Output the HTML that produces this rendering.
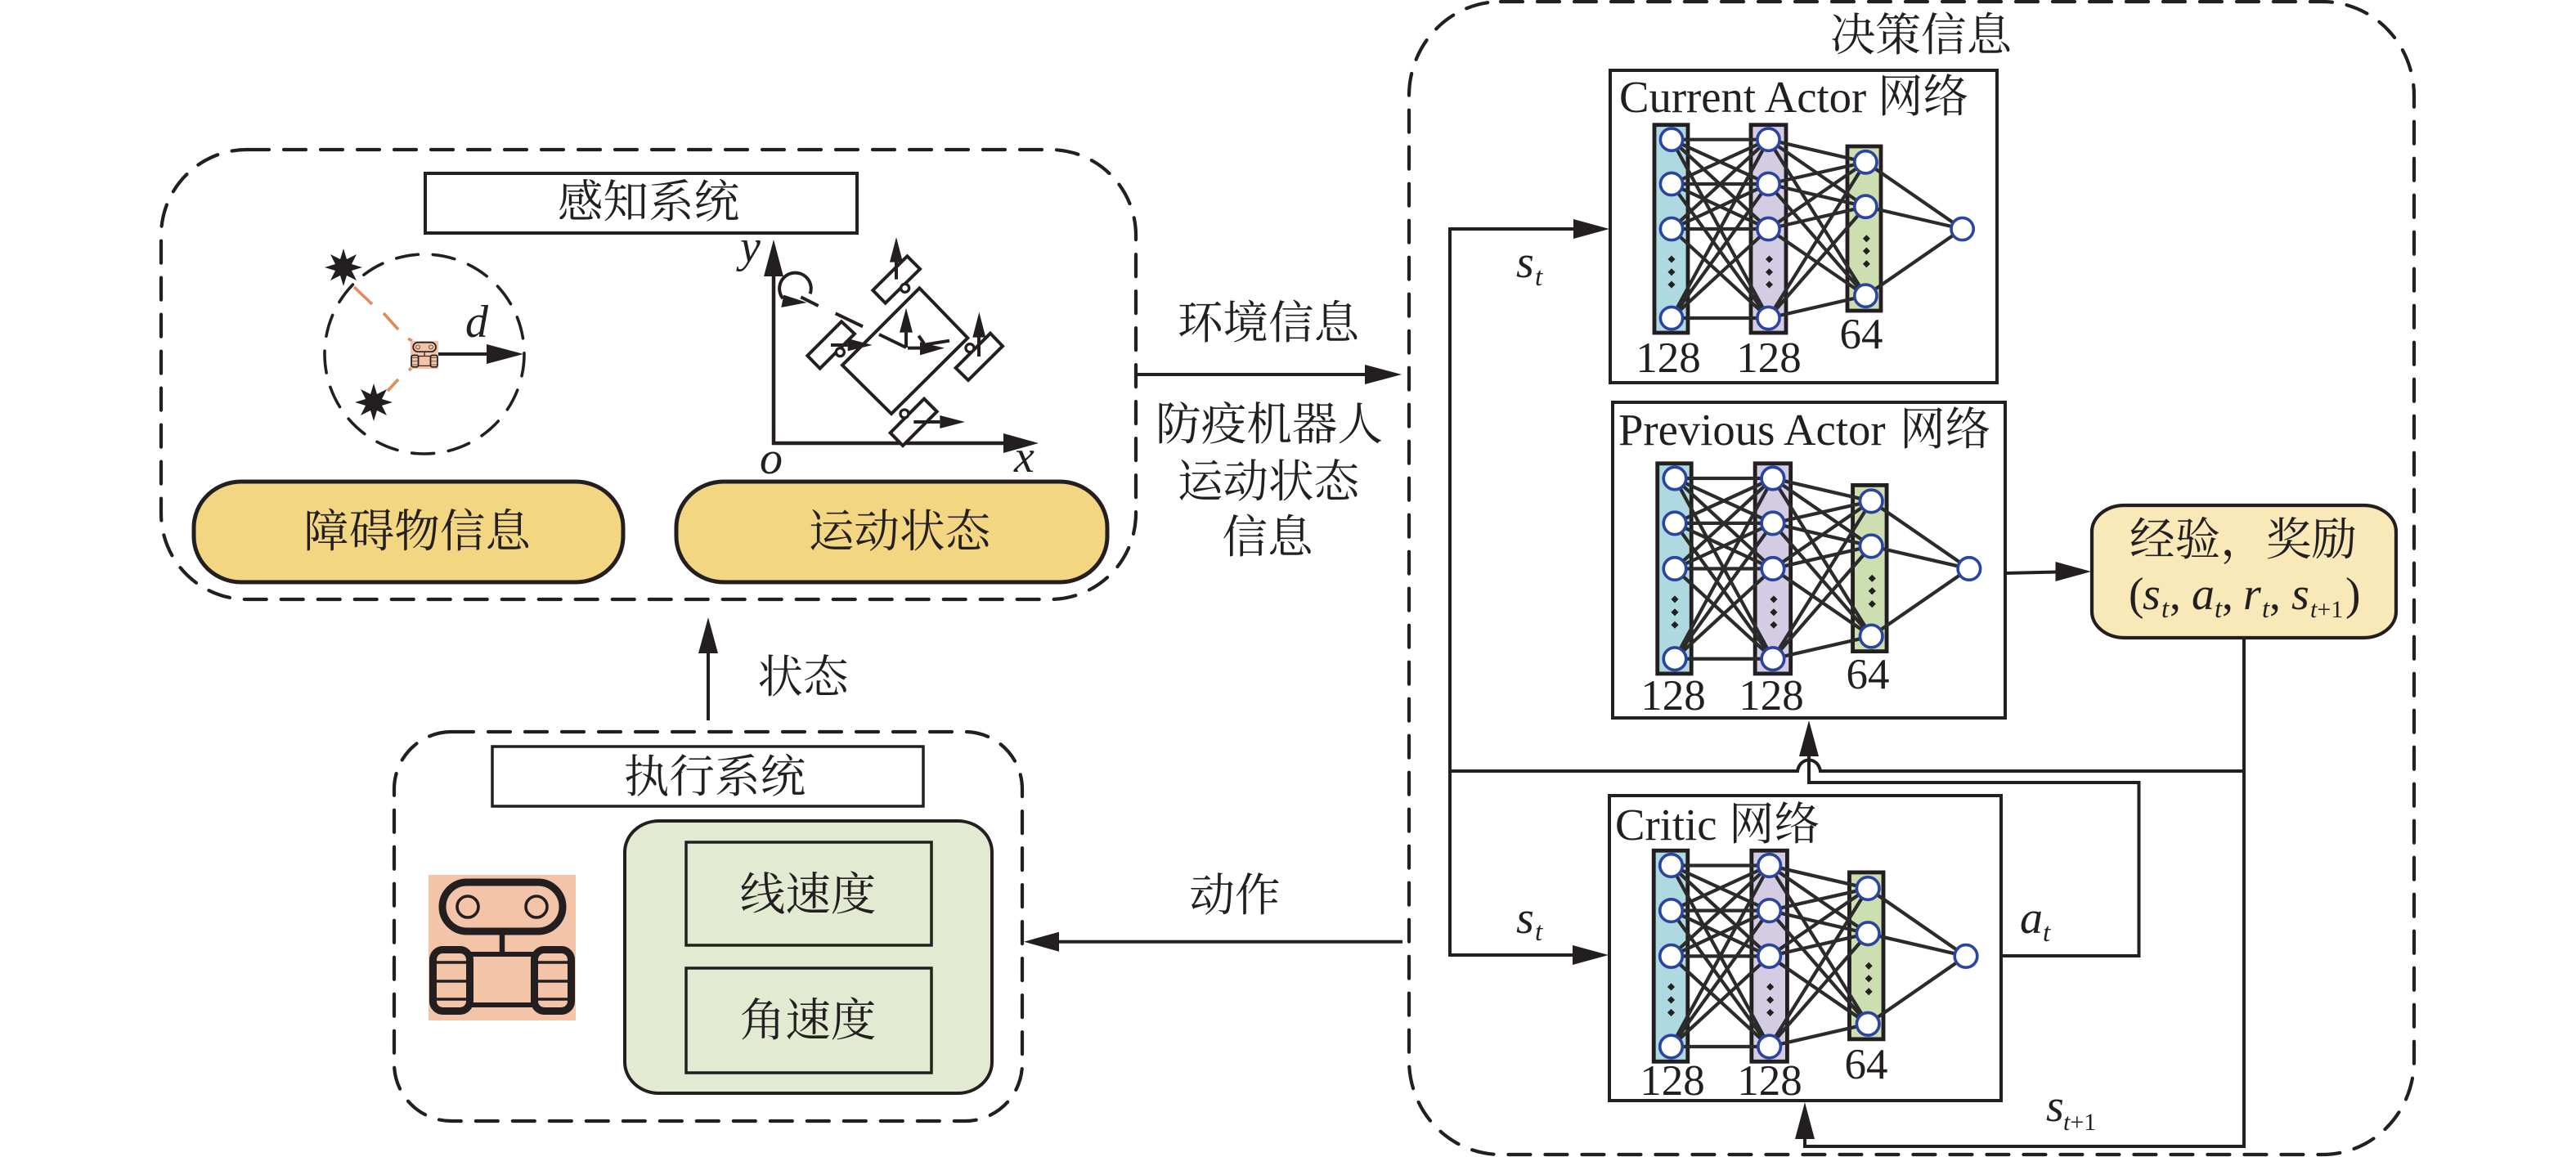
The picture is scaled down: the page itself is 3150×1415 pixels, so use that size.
<!DOCTYPE html>
<html lang="zh"><head><meta charset="utf-8"><title>决策信息</title>
<style>
html,body{margin:0;padding:0;background:#fff;width:3150px;height:1415px;overflow:hidden}
svg{display:block}
text{fill:#231f20;font-family:"Liberation Serif","Noto Serif CJK SC",serif;font-size:55.6px}
.c{text-anchor:middle}
.n{font-size:53px;text-anchor:middle}
.t{font-size:54.7px}
.t tspan{font-size:55.6px}
.i{font-style:italic;font-size:56px}
.s{font-style:italic;font-size:33px}
.s tspan{font-style:normal}
.w{font-size:30px}
.d{fill:none;stroke:#231f20;stroke-width:4.2;stroke-dasharray:27 18;stroke-linecap:round}
.b{fill:#fff;stroke:#231f20;stroke-width:4}
.l{fill:none;stroke:#231f20;stroke-width:4}
.h{fill:#231f20;stroke:none}
</style></head><body>
<svg xmlns="http://www.w3.org/2000/svg" width="3150" height="1415" viewBox="0 0 3150 1415">
<rect width="3150" height="1415" fill="#fff"/>
<defs>
<g id="net">
<rect x="-21" y="-18" width="41" height="254.3" fill="#aed9e0" stroke="#231f20" stroke-width="4.8"/>
<rect x="97" y="-18" width="43" height="254.3" fill="#d4cce3" stroke="#231f20" stroke-width="4.8"/>
<rect x="215" y="8.3" width="41" height="201" fill="#cddfb0" stroke="#231f20" stroke-width="4.8"/>
<path fill="#231f20" d="M0 141.8l4.5 4.5-4.5 4.5-4.5-4.5zM0 157.5l4.5 4.5-4.5 4.5-4.5-4.5zM0 172.8l4.5 4.5-4.5 4.5-4.5-4.5zM119.5 141.8l4.5 4.5-4.5 4.5-4.5-4.5zM119.5 157.5l4.5 4.5-4.5 4.5-4.5-4.5zM119.5 172.8l4.5 4.5-4.5 4.5-4.5-4.5zM238.4 116.5l4.5 4.5-4.5 4.5-4.5-4.5zM238.4 131.8l4.5 4.5-4.5 4.5-4.5-4.5zM238.4 147.5l4.5 4.5-4.5 4.5-4.5-4.5z"/>
<path fill="none" stroke="#2b2b2b" stroke-width="4.2" d="M0 0L118.5 0M0 0L118.5 54.3M0 0L118.5 109.3M0 0L118.5 218.3M0 54.3L118.5 0M0 54.3L118.5 54.3M0 54.3L118.5 109.3M0 54.3L118.5 218.3M0 109.3L118.5 0M0 109.3L118.5 54.3M0 109.3L118.5 109.3M0 109.3L118.5 218.3M0 218.3L118.5 0M0 218.3L118.5 54.3M0 218.3L118.5 109.3M0 218.3L118.5 218.3M118.5 0L237.4 27.6M118.5 0L237.4 82M118.5 0L237.4 191M118.5 54.3L237.4 27.6M118.5 54.3L237.4 82M118.5 54.3L237.4 191M118.5 109.3L237.4 27.6M118.5 109.3L237.4 82M118.5 109.3L237.4 191M118.5 218.3L237.4 27.6M118.5 218.3L237.4 82M118.5 218.3L237.4 191M237.4 27.6L355.6 109.3M237.4 82L355.6 109.3M237.4 191L355.6 109.3"/>
<g fill="#fff" stroke="#2b44a0" stroke-width="3.6">
<circle cx="0" cy="0" r="13.6"/><circle cx="0" cy="54.3" r="13.6"/><circle cx="0" cy="109.3" r="13.6"/><circle cx="0" cy="218.3" r="13.6"/>
<circle cx="118.5" cy="0" r="13.6"/><circle cx="118.5" cy="54.3" r="13.6"/><circle cx="118.5" cy="109.3" r="13.6"/><circle cx="118.5" cy="218.3" r="13.6"/>
<circle cx="237.4" cy="27.6" r="13.6"/><circle cx="237.4" cy="82" r="13.6"/><circle cx="237.4" cy="191" r="13.6"/>
<circle cx="355.6" cy="109.3" r="13.6"/>
</g>
</g>
<g id="robot">
<rect x="524" y="1070" width="180" height="178" fill="#f4c4a9"/>
<rect x="541" y="1079" width="147" height="60" rx="30" fill="none" stroke="#231f20" stroke-width="9"/>
<ellipse cx="572" cy="1109" rx="13" ry="13" fill="none" stroke="#231f20" stroke-width="3.6"/>
<ellipse cx="656" cy="1109" rx="13" ry="13" fill="none" stroke="#231f20" stroke-width="3.6"/>
<path d="M614 1142V1165" stroke="#231f20" stroke-width="6.5" fill="none"/>
<rect x="575" y="1167" width="78" height="62" fill="none" stroke="#231f20" stroke-width="6"/>
<rect x="529.5" y="1161.5" width="45" height="75" rx="12" fill="#f4c4a9" stroke="#231f20" stroke-width="9"/>
<rect x="653.5" y="1161.5" width="45" height="75" rx="12" fill="#f4c4a9" stroke="#231f20" stroke-width="9"/>
<path d="M532 1177H572M532 1200H572M532 1222H572M656 1177H696M656 1200H696M656 1222H696" stroke="#231f20" stroke-width="3.5" fill="none"/>
</g>
</defs>

<!-- Perception system -->
<rect class="d" x="197" y="183" width="1192" height="550" rx="105" ry="105"/>
<rect class="b" x="520" y="212" width="528" height="73"/>
<text class="c" x="793" y="266">感知系统</text>
<rect x="237" y="589" width="525" height="123" rx="58" ry="56" fill="#f3d682" stroke="#231f20" stroke-width="5"/>
<rect x="827" y="589" width="527" height="123" rx="58" ry="56" fill="#f3d682" stroke="#231f20" stroke-width="5"/>
<text class="c" x="510" y="669">障碍物信息</text>
<text class="c" x="1100" y="669">运动状态</text>

<!-- Obstacle sensing -->
<circle class="d" cx="519" cy="433" r="122" style="stroke-width:3.6"/>
<path d="M433 351L455 372M469 383L487 403M499 414L504 417M500 453L504 449M487 464L474 478" stroke="#e08b5a" stroke-width="3.6" fill="none"/>
<polygon class="h" transform="translate(420,327)" points="0,-23 4,-10 16,-16 10,-4 23,0 10,4 16,16 4,10 0,23 -4,10 -16,16 -10,4 -23,0 -10,-4 -16,-16 -4,-10"/>
<polygon class="h" transform="translate(457,492)" points="0,-23 4,-10 16,-16 10,-4 23,0 10,4 16,16 4,10 0,23 -4,10 -16,16 -10,4 -23,0 -10,-4 -16,-16 -4,-10"/>
<use href="#robot" transform="translate(502,417) scale(.189,.191) translate(-524,-1070)"/>
<path class="l" d="M536 433H600"/>
<polygon class="h" points="640,433 595,421 595,445"/>
<text class="i" x="569" y="412">d</text>

<!-- Kinematic frame -->
<path class="l" style="stroke-width:4.5" d="M946 338V542H1230"/>
<polygon class="h" points="946,293 934,338 958,338"/>
<polygon class="h" points="1270,542 1227,530 1227,554"/>
<text class="i" x="905" y="320">y</text>
<text class="i" x="929" y="579">o</text>
<text class="i" x="1240" y="577">x</text>
<g transform="translate(880,270) scale(.33333)" fill="none" stroke="#231f20" stroke-width="12">
<polygon points="733,247 910,430 630,708 450,530"/>
<polygon fill="#fff" points="688,130 735,177 608,302 562,255"/>
<polygon fill="#fff" points="993,413 1038,460 912,585 866,540"/>
<polygon fill="#fff" points="750,653 797,700 672,825 626,778"/>
<polygon fill="#fff" points="447,370 495,415 368,542 322,495"/>
<g fill="#fff" stroke-width="10">
<circle cx="680" cy="247" r="15"/><circle cx="918" cy="467" r="15"/><circle cx="678" cy="708" r="15"/><circle cx="442" cy="482" r="15"/>
</g>
<path d="M332 268A58 58 0 1 0 232 285M298 280L362 312M425 340L525 388M585 417L684 465M730 422L750 450M750 455L843 440"/>
<path d="M648 215V150M951 498V425M712 738H808M408 456H470M684 465V410M690 467H735"/>
<g fill="#231f20" stroke="none">
<polygon points="226,318 235,272 320,300"/>
<polygon points="648,60 624,152 672,152"/>
<polygon points="952,335 928,428 976,428"/>
<polygon points="900,738 808,714 808,762"/>
<polygon points="560,456 470,432 470,478"/>
<polygon points="684,320 660,410 708,410"/>
<polygon points="825,467 735,445 735,493"/>
</g>
</g>

<!-- Perception to decision -->
<path class="l" d="M1388 458H1672"/>
<polygon class="h" points="1714,458 1669,446 1669,470"/>
<text class="c" x="1551" y="414">环境信息</text>
<text class="c" x="1552" y="538">防疫机器人</text>
<text class="c" x="1551" y="608">运动状态</text>
<text class="c" x="1550" y="676">信息</text>

<!-- State arrow -->
<path class="l" d="M866 881V797"/>
<polygon class="h" points="866,755 854,799 878,799"/>
<text class="c" x="982" y="847">状态</text>

<!-- Execution system -->
<rect class="d" x="482" y="895" width="768" height="476" rx="70" ry="70"/>
<rect class="b" x="602" y="913" width="527" height="73" style="stroke-width:3.5"/>
<text class="c" x="874" y="969">执行系统</text>
<use href="#robot"/>
<rect x="764" y="1004" width="449" height="333" rx="42" ry="38" fill="#e2ebd1" stroke="#231f20" stroke-width="4"/>
<rect x="839" y="1030" width="300" height="126" fill="#e2ebd1" stroke="#231f20" stroke-width="3.5"/>
<rect x="839" y="1184" width="300" height="128" fill="#e2ebd1" stroke="#231f20" stroke-width="3.5"/>
<text class="c" x="988" y="1113">线速度</text>
<text class="c" x="988" y="1267">角速度</text>

<!-- Action arrow -->
<path class="l" d="M1715 1151.7H1292"/>
<polygon class="h" points="1252,1151.7 1295,1139.7 1295,1163.7"/>
<text class="c" x="1510" y="1114">动作</text>

<!-- Decision box -->
<rect class="d" x="1723" y="2" width="1229" height="1410" rx="112" ry="115"/>
<text class="c" x="2349" y="62">决策信息</text>

<!-- Loop connectors -->
<path class="l" d="M1930 280H1773V1168H1930"/>
<polygon class="h" points="1968,280 1924,268 1924,292"/>
<polygon class="h" points="1967,1168 1923,1156 1923,1180"/>
<text class="i" x="1854" y="339">s</text><text class="s" x="1877" y="349">t</text>
<text class="i" x="1854" y="1141">s</text><text class="s" x="1877" y="1150">t</text>
<path class="l" d="M1773 943H2198C2201 925 2223 925 2226 943H2744"/>
<path class="l" d="M2744 780V1402H2207V1390"/>
<polygon class="h" points="2207,1348 2195,1393 2219,1393"/>
<path class="l" d="M2447 1169H2615.5V957H2212V922"/>
<polygon class="h" points="2212,881 2200,925 2224,925"/>
<text class="i" x="2470" y="1141">a</text><text class="s" x="2498" y="1151">t</text>
<text class="i" x="2502" y="1371">s</text><text class="s w" x="2523" y="1382">t<tspan>+1</tspan></text>

<!-- Current Actor -->
<rect class="b" x="1969" y="86" width="473" height="382"/>
<text class="t" x="1980" y="137">Current Actor<tspan x="2296">网络</tspan></text>
<use href="#net" transform="translate(2044,170.7)"/>
<text class="n" x="2040" y="455">128</text><text class="n" x="2163" y="455">128</text><text class="n" x="2276" y="426">64</text>

<!-- Previous Actor -->
<rect class="b" x="1972" y="492" width="480" height="386"/>
<text class="t" x="1979" y="544">Previous Actor<tspan x="2323">网络</tspan></text>
<use href="#net" transform="translate(2048,585) scale(1.012,1.011)"/>
<text class="n" x="2046" y="868">128</text><text class="n" x="2166" y="868">128</text><text class="n" x="2284" y="842">64</text>

<!-- Critic -->
<rect class="b" x="1968" y="973" width="479" height="373"/>
<text class="t" x="1975" y="1027">Critic<tspan x="2114">网络</tspan></text>
<use href="#net" transform="translate(2043.5,1058.5) scale(1.0138,1.0147)"/>
<text class="n" x="2045" y="1339">128</text><text class="n" x="2164" y="1339">128</text><text class="n" x="2282" y="1319">64</text>

<!-- Experience box -->
<path class="l" d="M2452 701L2516 699.5"/>
<polygon class="h" points="2557,699 2513.5,687 2513.5,711"/>
<rect x="2558" y="618" width="372" height="162" rx="40" ry="32" fill="#f9e8b8" stroke="#231f20" stroke-width="4.2"/>
<text class="c" x="2743" y="679">经验，奖励</text>
<text x="2603" y="745">(</text>
<text class="i" x="2620" y="745">s</text><text class="s" x="2643" y="755">t</text><text x="2653" y="745">,</text>
<text class="i" x="2680" y="745">a</text><text class="s" x="2708" y="755">t</text><text x="2717" y="745">,</text>
<text class="i" x="2743" y="745">r</text><text class="s" x="2766" y="755">t</text><text x="2775" y="745">,</text>
<text class="i" x="2802" y="745">s</text><text class="s w" x="2825" y="755">t<tspan>+1</tspan></text>
<text x="2868" y="745">)</text>
</svg>
</body></html>
